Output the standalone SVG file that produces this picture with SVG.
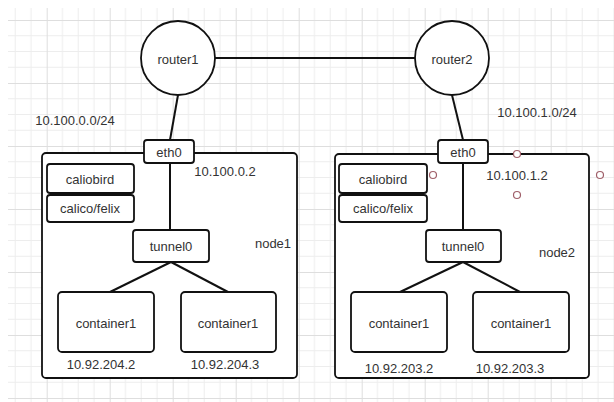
<svg xmlns="http://www.w3.org/2000/svg" width="614" height="402" viewBox="0 0 614 402">
<style>
text{font-family:"Liberation Sans","Noto Sans",Arial,sans-serif;font-size:13px;fill:#333;text-anchor:middle;dominant-baseline:central}
.b{fill:#fff;stroke:#111;stroke-width:1.8}
.l{stroke:#111;stroke-width:2;fill:none}
.dot{fill:#fff;stroke:#a0606a;stroke-width:1.2}
</style>
<defs>
<pattern id="grid" patternUnits="userSpaceOnUse" x="46.7" y="20" width="63" height="63">
<path d="M15.75 0V63M31.5 0V63M47.25 0V63M0 15.75H63M0 31.5H63M0 47.25H63" stroke="#ededed" stroke-width="1" fill="none"/>
<path d="M0.5 0V63M0 0.5H63" stroke="#dedede" stroke-width="1" fill="none"/>
</pattern>
</defs>
<rect width="614" height="402" fill="#fff"/>
<rect x="8" y="8" width="606" height="394" fill="url(#grid)"/>
<g id="node1">
<rect class="b" x="42" y="153" width="255" height="225" rx="4"/>
<text x="273" y="243">node1</text>
</g>
<g id="node2">
<rect class="b" x="335" y="154" width="254" height="224" rx="4"/>
<text x="557" y="252">node2</text>
</g>
<g id="connectors">
<line class="l" x1="215" y1="58" x2="415" y2="58"/>
<line class="l" x1="178" y1="95" x2="170" y2="140"/>
<line class="l" x1="452" y1="95" x2="463" y2="140"/>
<line class="l" x1="170" y1="163" x2="170" y2="230"/>
<line class="l" x1="463" y1="163" x2="463" y2="230"/>
<line class="l" x1="171" y1="262" x2="110" y2="292"/>
<line class="l" x1="171" y1="262" x2="228" y2="292"/>
<line class="l" x1="463" y1="262" x2="400" y2="292"/>
<line class="l" x1="463" y1="262" x2="520" y2="292"/>
</g>
<g id="router1"><circle class="b" cx="178" cy="58" r="37"/><text x="178" y="59">router1</text></g>
<g id="router2"><circle class="b" cx="452" cy="58" r="37"/><text x="452" y="59">router2</text></g>
<g id="eth0-1"><rect class="b" x="144" y="140" width="50" height="23" rx="3"/><text x="169" y="152">eth0</text></g>
<g id="eth0-2"><rect class="b" x="438" y="140" width="50" height="23" rx="3"/><text x="463" y="152">eth0</text></g>
<g id="caliobird-1"><rect class="b" x="47" y="164" width="87" height="29" rx="3"/><text x="90" y="179">caliobird</text></g>
<g id="felix-1"><rect class="b" x="47" y="195" width="87" height="27" rx="3"/><text x="90" y="208">calico/felix</text></g>
<g id="caliobird-2"><rect class="b" x="339" y="164" width="88" height="29" rx="3"/><text x="383" y="179">caliobird</text></g>
<g id="felix-2"><rect class="b" x="339" y="195" width="88" height="27" rx="3"/><text x="383" y="208">calico/felix</text></g>
<g id="tunnel0-1"><rect class="b" x="133" y="230" width="76" height="32" rx="3"/><text x="171" y="246">tunnel0</text></g>
<g id="tunnel0-2"><rect class="b" x="426" y="230" width="75" height="32" rx="3"/><text x="463" y="246">tunnel0</text></g>
<g id="c1a"><rect class="b" x="58" y="292" width="96" height="60" rx="4"/><text x="106" y="323">container1</text></g>
<g id="c1b"><rect class="b" x="181" y="292" width="95" height="60" rx="4"/><text x="228" y="323">container1</text></g>
<g id="c2a"><rect class="b" x="351" y="292" width="96" height="60" rx="4"/><text x="399" y="323">container1</text></g>
<g id="c2b"><rect class="b" x="473" y="292" width="96" height="60" rx="4"/><text x="521" y="323">container1</text></g>
<g id="labels">
<text x="75" y="120">10.100.0.0/24</text>
<text x="225" y="171">10.100.0.2</text>
<text x="537" y="112">10.100.1.0/24</text>
<text x="517" y="175">10.100.1.2</text>
<text x="101" y="364">10.92.204.2</text>
<text x="225" y="364">10.92.204.3</text>
<text x="399" y="368">10.92.203.2</text>
<text x="510" y="368">10.92.203.3</text>
</g>
<g id="handles">
<circle class="dot" cx="517" cy="154" r="3.5"/>
<circle class="dot" cx="433" cy="175" r="3.5"/>
<circle class="dot" cx="600" cy="175" r="3.5"/>
<circle class="dot" cx="517" cy="195" r="3.5"/>
</g>
</svg>
